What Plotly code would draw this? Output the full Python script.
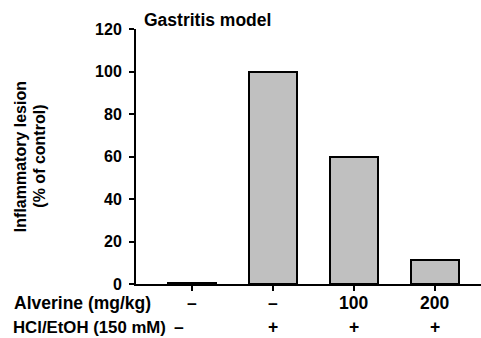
import plotly.graph_objects as go

categories = ["ctrl", "HCl", "HCl+Alv100", "HCl+Alv200"]
values = [0.5, 100, 60, 11.5]
alverine_labels = ["–", "–", "100", "200"]
hcl_labels = ["–", "+", "+", "+"]
y_ticks = [0, 20, 40, 60, 80, 100, 120]

W, H = 481, 338
L, R, T, B = 135.5, 0, 29, 54
FONT = "Liberation Sans, Arial, sans-serif"
FS = 16
FS_ROW = 17.5
FS_HCL = 16.8
FS_TITLE = 17.5

xpos = list(range(len(categories)))

fig = go.Figure()
fig.add_trace(go.Bar(
    x=xpos, y=values, width=0.6,
    marker=dict(color="#c0c0c0", line=dict(color="black", width=2)),
    hoverinfo="skip",
))

fig.update_layout(
    width=W, height=H,
    margin=dict(l=L, r=R, t=T, b=B, pad=0),
    plot_bgcolor="white", paper_bgcolor="white",
    showlegend=False,
    font=dict(family=FONT, size=FS, color="black"),
    bargap=0,
)
fig.update_xaxes(
    range=[-0.694, 3.57], showgrid=False, zeroline=False,
    showline=True, linecolor="black", linewidth=2,
    tickmode="array", tickvals=xpos, ticktext=["" for _ in xpos],
    ticks="outside", ticklen=5, tickwidth=2, tickcolor="black",
)
fig.update_yaxes(
    range=[0, 120], showgrid=False, zeroline=False,
    showline=True, linecolor="black", linewidth=2,
    tickmode="array", tickvals=y_ticks, ticktext=[str(v) for v in y_ticks],
    ticks="outside", ticklen=5, tickwidth=2, tickcolor="black",
    tickfont=dict(family=FONT, size=FS, color="black", weight="bold"),
    ticklabelstandoff=4,
)

def px2paper_x(px):
    return (px - L) / (W - L - R)

def px2paper_y(py):
    return (H - B - py) / (H - B - T)

ann = []
ann.append(dict(text="<b>Gastritis model</b>", x=px2paper_x(142), y=px2paper_y(20),
                xref="paper", yref="paper", xanchor="left", yanchor="middle",
                showarrow=False, font=dict(size=FS_TITLE)))
ann.append(dict(text="<b>Inflammatory lesion</b>", x=px2paper_x(20), y=0.5,
                xref="paper", yref="paper", xanchor="center", yanchor="middle",
                textangle=-90, showarrow=False, font=dict(size=FS)))
ann.append(dict(text="<b>(% of control)</b>", x=px2paper_x(38.5), y=0.5,
                xref="paper", yref="paper", xanchor="center", yanchor="middle",
                textangle=-90, showarrow=False, font=dict(size=FS)))
ann.append(dict(text="<b>Alverine (mg/kg)</b>", x=px2paper_x(11), y=px2paper_y(303),
                xref="paper", yref="paper", xanchor="left", yanchor="middle",
                showarrow=False, font=dict(size=FS_ROW)))
ann.append(dict(text="<b>HCl/EtOH (150 mM)</b>", x=px2paper_x(10), y=px2paper_y(327),
                xref="paper", yref="paper", xanchor="left", yanchor="middle",
                showarrow=False, font=dict(size=FS_HCL)))
for i, t in enumerate(alverine_labels):
    ann.append(dict(text=f"<b>{t}</b>", x=xpos[i], y=px2paper_y(303),
                    xref="x", yref="paper", xanchor="center", yanchor="middle",
                    showarrow=False, font=dict(size=FS_ROW)))
for i, t in enumerate(hcl_labels):
    ann.append(dict(text=f"<b>{t}</b>", x=xpos[i], y=px2paper_y(327),
                    xref="x", yref="paper", xanchor="center", yanchor="middle",
                    xshift=-13 if i == 0 else 0,
                    showarrow=False, font=dict(size=FS_ROW)))
fig.update_layout(annotations=ann)

fig.write_html("out.html")
